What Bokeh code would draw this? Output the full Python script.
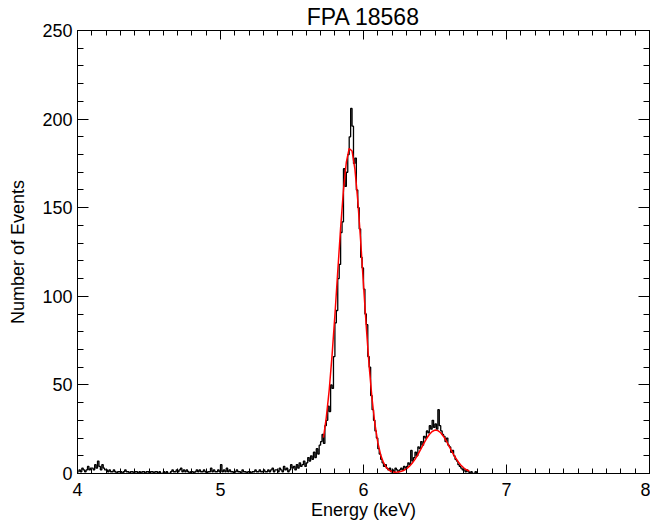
import numpy as np
from bokeh.plotting import figure
from bokeh.models import Range1d, LinearAxis, SingleIntervalTicker, CustomJSTickFormatter
from bokeh.embed import file_html
from bokeh.resources import INLINE

# ---------------- data ----------------
title_text = "FPA 18568"
x_label = "Energy (keV)"
y_label = "Number of Events"

x_min, x_max = 4.0, 8.0
y_min, y_max = 0, 250

bin_start = 4.0      # keV, first bin lower edge
bin_width = 0.01     # keV

counts_400_499 = [
    1, 2, 1, 3, 2, 1, 2, 4, 2, 3,
    3, 2, 5, 3, 7, 4, 2, 5, 3, 2,
    2, 1, 2, 1, 1, 2, 1, 0, 1, 1,
    1, 0, 1, 2, 1, 1, 0, 1, 1, 0,
    1, 1, 0, 1, 0, 1, 1, 0, 1, 1,
    0, 1, 1, 0, 1, 1, 0, 1, 0, 0,
    1, 0, 1, 0, 0, 1, 2, 1, 1, 2,
    1, 2, 3, 1, 2, 1, 2, 1, 0, 1,
    1, 0, 1, 2, 1, 2, 1, 1, 2, 1,
    0, 1, 1, 3, 1, 2, 1, 1, 2, 1,
]
counts_500_599 = [
    5, 1, 2, 1, 3, 1, 2, 1, 1, 0,
    1, 2, 1, 1, 0, 2, 1, 1, 0, 1,
    1, 0, 1, 1, 2, 1, 1, 2, 1, 1,
    2, 1, 1, 2, 1, 2, 3, 1, 2, 2,
    1, 3, 2, 1, 4, 2, 3, 1, 2, 5,
    3, 4, 2, 5, 3, 6, 4, 5, 7, 4,
    6, 9, 7, 10, 8, 12, 9, 14, 11, 16,
    18, 22, 17, 27, 30, 38, 35, 50, 48, 66,
    85, 92, 110, 118, 136, 142, 172, 162, 170, 180,
    190, 206, 196, 175, 178, 160, 150, 138, 122, 116,
]
counts_600_679 = [
    104, 90, 84, 66, 60, 44, 36, 30, 24, 20,
    14, 11, 8, 6, 4, 5, 3, 2, 3, 1,
    2, 1, 3, 2, 1, 2, 3, 2, 4, 3,
    4, 6, 5, 13, 7, 9, 12, 10, 15, 14,
    18, 16, 21, 20, 24, 23, 27, 25, 30, 26,
    28, 25, 36, 27, 24, 22, 21, 18, 20, 16,
    15, 12, 13, 10, 8, 7, 5, 4, 3, 2,
    2, 1, 2, 1, 0, 1, 0, 0, 1, 0,
]

fit_start = 5.72     # keV
fit_step = 0.02      # keV
fit_counts = [
    20.2, 31.7, 47.0, 66.5, 89.3, 114.1, 138.6, 160.1, 175.7, 183.4,
    182.0, 171.8, 154.1, 131.4, 106.6, 82.2, 60.2, 42.0, 27.8, 17.5,
    10.5, 6.1, 3.3, 1.8, 1.0, 0.7, 0.8, 1.1, 1.7, 2.6,
    4.0, 5.8, 8.0, 10.7, 13.6, 16.7, 19.6, 22.0, 23.7, 24.5,
    24.2, 23.0, 20.9, 18.2, 15.2, 12.1, 9.3, 6.8, 4.8, 3.2,
    2.1, 1.3,
]

counts = counts_400_499 + counts_500_599 + counts_600_679
energy = bin_start + bin_width * (np.arange(len(counts)) + 0.5)
fit_energy = fit_start + fit_step * np.arange(len(fit_counts))

# ---------------- figure ----------------
FONT = "Liberation Sans"

p = figure(width=650, height=522,
           x_range=Range1d(x_min, x_max), y_range=Range1d(y_min, y_max),
           x_axis_type=None, y_axis_type=None,
           output_backend="svg", toolbar_location=None,
           min_border_left=77, min_border_right=1,
           min_border_top=29, min_border_bottom=20)
p.background_fill_color = "white"
p.border_fill_color = "white"
p.outline_line_color = "black"
p.outline_line_width = 1

p.title.text = title_text
p.title.align = "center"
p.title.text_font = FONT
p.title.text_font_size = "23px"
p.title.text_font_style = "normal"
p.title.text_color = "black"
p.title.standoff = 2


def make_axis(interval, minor_n, major_len, minor_len, show_labels, standoff):
    ax = LinearAxis(ticker=SingleIntervalTicker(interval=interval, num_minor_ticks=minor_n),
                    major_tick_in=major_len, major_tick_out=0,
                    minor_tick_in=minor_len, minor_tick_out=0,
                    axis_line_color="black", major_tick_line_color="black",
                    minor_tick_line_color="black",
                    major_label_standoff=standoff)
    if show_labels:
        ax.major_label_text_font = FONT
        ax.major_label_text_font_size = "18px"
        ax.major_label_text_color = "black"
        ax.axis_label_text_font = FONT
        ax.axis_label_text_font_size = "18px"
        ax.axis_label_text_font_style = "normal"
        ax.axis_label_text_color = "black"
    else:
        ax.formatter = CustomJSTickFormatter(code="return ''")
        ax.major_label_standoff = 0
    return ax


xax = make_axis(1, 10, 9, 5, True, 9)
xax.axis_label = x_label
xax.axis_label_standoff = 1
yax = make_axis(50, 5, 11, 6, True, 5)
yax.axis_label = y_label
yax.axis_label_standoff = 11

p.add_layout(xax, "below")
p.add_layout(make_axis(1, 10, 9, 5, False, 0), "above")
p.add_layout(yax, "left")
p.add_layout(make_axis(50, 5, 11, 6, False, 0), "right")

p.step(energy, counts, mode="center", line_color="black", line_width=1.3)
p.line(fit_energy, fit_counts, line_color="#ff0000", line_width=1.5)

open("out.html", "w").write(file_html(p, INLINE))
